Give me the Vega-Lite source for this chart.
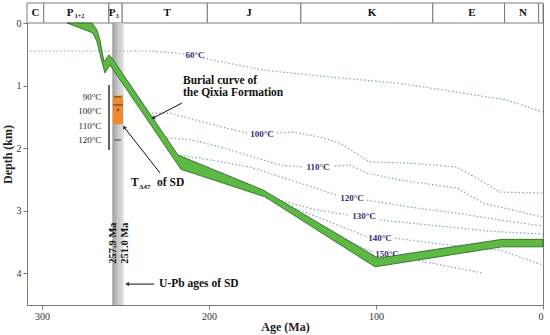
{
  "$schema": "https://vega.github.io/schema/vega-lite/v6.json",
  "width": 516,
  "height": 302,
  "autosize": {"type": "none"},
  "padding": {"left": 27, "top": 3, "right": 7, "bottom": 30},
  "config": {
    "font": "Liberation Serif",
    "view": {"stroke": "#7a7a7a", "strokeWidth": 1}
  },
  "datasets": {
    "periods": [
      {"a1": 309, "a2": 299}, {"a1": 299, "a2": 260}, {"a1": 260, "a2": 252},
      {"a1": 252, "a2": 201}, {"a1": 201, "a2": 145}, {"a1": 145, "a2": 66},
      {"a1": 66, "a2": 23}, {"a1": 23, "a2": 2.6}, {"a1": 2.6, "a2": 0}
    ],
    "periodLabels": [
      {"t": "C", "age": 304, "depth": -0.16}, {"t": "P", "age": 283.2, "depth": -0.16},
      {"t": "P", "age": 258.0, "depth": -0.16}, {"t": "T", "age": 225.1, "depth": -0.16},
      {"t": "J", "age": 176, "depth": -0.16}, {"t": "K", "age": 102.4, "depth": -0.16},
      {"t": "E", "age": 42.5, "depth": -0.16}, {"t": "N", "age": 12, "depth": -0.16}
    ],
    "periodSubs": [
      {"t": "1+2", "age": 277.6, "depth": -0.11}, {"t": "3", "age": 255.0, "depth": -0.11}
    ],
    "upb": [{"a1": 257.9, "a2": 251.0, "d1": 0, "d2": 4.51}],
    "isotherms": [
      {"k": "60a", "i": 0, "age": 309, "depth": 0.448}, {"k": "60a", "i": 1, "age": 235.3, "depth": 0.448},
      {"k": "60a", "i": 2, "age": 219.2, "depth": 0.48}, {"k": "60a", "i": 3, "age": 213.5, "depth": 0.5},
      {"k": "60b", "i": 0, "age": 203.6, "depth": 0.56}, {"k": "60b", "i": 1, "age": 167.7, "depth": 0.752},
      {"k": "60b", "i": 2, "age": 127.5, "depth": 0.864}, {"k": "60b", "i": 3, "age": 87.4, "depth": 0.96},
      {"k": "60b", "i": 4, "age": 47.9, "depth": 1.12}, {"k": "60b", "i": 5, "age": 21.6, "depth": 1.232},
      {"k": "60b", "i": 6, "age": 0, "depth": 1.424},
      {"k": "100a", "i": 0, "age": 236.5, "depth": 1.44}, {"k": "100a", "i": 1, "age": 223.4, "depth": 1.44},
      {"k": "100a", "i": 2, "age": 203.6, "depth": 1.584}, {"k": "100a", "i": 3, "age": 187.4, "depth": 1.696},
      {"k": "100a", "i": 4, "age": 177.2, "depth": 1.76},
      {"k": "100b", "i": 0, "age": 159.3, "depth": 1.76}, {"k": "100b", "i": 1, "age": 149.7, "depth": 1.744},
      {"k": "100b", "i": 2, "age": 133.5, "depth": 1.824}, {"k": "100b", "i": 3, "age": 121.6, "depth": 1.92},
      {"k": "100b", "i": 4, "age": 103.6, "depth": 2.224}, {"k": "100b", "i": 5, "age": 79.6, "depth": 2.24},
      {"k": "100b", "i": 6, "age": 51.5, "depth": 2.304}, {"k": "100b", "i": 7, "age": 37.7, "depth": 2.512},
      {"k": "100b", "i": 8, "age": 25.7, "depth": 2.704}, {"k": "100b", "i": 9, "age": 0, "depth": 2.72},
      {"k": "110a", "i": 0, "age": 225.1, "depth": 1.84}, {"k": "110a", "i": 1, "age": 213.2, "depth": 1.856},
      {"k": "110a", "i": 2, "age": 195.2, "depth": 1.968}, {"k": "110a", "i": 3, "age": 177.2, "depth": 2.112},
      {"k": "110a", "i": 4, "age": 157.5, "depth": 2.272}, {"k": "110a", "i": 5, "age": 143.7, "depth": 2.304},
      {"k": "110b", "i": 0, "age": 124.6, "depth": 2.288}, {"k": "110b", "i": 1, "age": 115.6, "depth": 2.272},
      {"k": "110b", "i": 2, "age": 105.4, "depth": 2.4}, {"k": "110b", "i": 3, "age": 85.6, "depth": 2.512},
      {"k": "110b", "i": 4, "age": 51.5, "depth": 2.64}, {"k": "110b", "i": 5, "age": 35.9, "depth": 2.88},
      {"k": "110b", "i": 6, "age": 0, "depth": 3.104},
      {"k": "120a", "i": 0, "age": 219.2, "depth": 2.112}, {"k": "120a", "i": 1, "age": 205.4, "depth": 2.16},
      {"k": "120a", "i": 2, "age": 175.4, "depth": 2.304}, {"k": "120a", "i": 3, "age": 145.5, "depth": 2.56},
      {"k": "120a", "i": 4, "age": 124.0, "depth": 2.75},
      {"k": "120b", "i": 0, "age": 105.4, "depth": 2.832}, {"k": "120b", "i": 1, "age": 79.6, "depth": 2.944},
      {"k": "120b", "i": 2, "age": 51.5, "depth": 3.04}, {"k": "120b", "i": 3, "age": 25.7, "depth": 3.152},
      {"k": "120b", "i": 4, "age": 0, "depth": 3.248},
      {"k": "130a", "i": 0, "age": 165.3, "depth": 2.784}, {"k": "130a", "i": 1, "age": 135.3, "depth": 2.992},
      {"k": "130a", "i": 2, "age": 115.6, "depth": 3.072},
      {"k": "130b", "i": 0, "age": 97.6, "depth": 3.152}, {"k": "130b", "i": 1, "age": 67.7, "depth": 3.232},
      {"k": "130b", "i": 2, "age": 31.7, "depth": 3.33}, {"k": "130b", "i": 3, "age": 0, "depth": 3.376},
      {"k": "140a", "i": 0, "age": 154.5, "depth": 2.896}, {"k": "140a", "i": 1, "age": 127.5, "depth": 3.184},
      {"k": "140a", "i": 2, "age": 104.8, "depth": 3.424},
      {"k": "140b", "i": 0, "age": 88.6, "depth": 3.44}, {"k": "140b", "i": 1, "age": 61.7, "depth": 3.536},
      {"k": "140b", "i": 2, "age": 25.7, "depth": 3.632}, {"k": "140b", "i": 3, "age": 0, "depth": 3.872},
      {"k": "150a", "i": 0, "age": 127.5, "depth": 3.36}, {"k": "150a", "i": 1, "age": 101.8, "depth": 3.664},
      {"k": "150b", "i": 0, "age": 85.6, "depth": 3.744}, {"k": "150b", "i": 1, "age": 35.9, "depth": 4.0}
    ],
    "isoLabels": [
      {"t": "60°C", "age": 208.4, "depth": 0.51}, {"t": "100°C", "age": 168.3, "depth": 1.78},
      {"t": "110°C", "age": 134.7, "depth": 2.3}, {"t": "120°C", "age": 114.4, "depth": 2.8},
      {"t": "130°C", "age": 107.2, "depth": 3.09}, {"t": "140°C", "age": 97.6, "depth": 3.44},
      {"t": "150°C", "age": 93.4, "depth": 3.7}
    ],
    "orange": [{"a1": 257.5, "a2": 251.5, "d1": 1.16, "d2": 1.62}],
    "insetLine": [{"age": 259.9, "d1": 0.99, "d2": 2.03}],
    "insetTicks": [
      {"a1": 256.9, "a2": 252.7, "depth": 1.18}, {"a1": 256.9, "a2": 252.7, "depth": 1.87},
      {"a1": 257.5, "a2": 251.5, "depth": 1.31}
    ],
    "insetLabels": [
      {"t": "90°C", "age": 264.5, "depth": 1.18}, {"t": "100°C", "age": 264.5, "depth": 1.41},
      {"t": "110°C", "age": 264.5, "depth": 1.65}, {"t": "120°C", "age": 264.5, "depth": 1.87}
    ],
    "insetDot": [{"age": 254.5, "depth": 1.39}],
    "burial": [
      {"i": 0, "age": 285, "depth": 0}, {"i": 1, "age": 270.1, "depth": 0},
      {"i": 2, "age": 267.1, "depth": 0.11}, {"i": 3, "age": 265.3, "depth": 0.27},
      {"i": 4, "age": 264.0, "depth": 0.46}, {"i": 5, "age": 262.9, "depth": 0.62},
      {"i": 6, "age": 259.9, "depth": 0.51}, {"i": 7, "age": 258.1, "depth": 0.56},
      {"i": 8, "age": 218.6, "depth": 2.11}, {"i": 9, "age": 167.7, "depth": 2.67},
      {"i": 10, "age": 98.8, "depth": 3.76}, {"i": 11, "age": 24.6, "depth": 3.46},
      {"i": 12, "age": 0, "depth": 3.46}, {"i": 13, "age": 0, "depth": 3.58},
      {"i": 14, "age": 24.6, "depth": 3.58}, {"i": 15, "age": 100.6, "depth": 3.9},
      {"i": 16, "age": 166.5, "depth": 2.78}, {"i": 17, "age": 216.8, "depth": 2.34},
      {"i": 18, "age": 259.3, "depth": 0.67}, {"i": 19, "age": 262.3, "depth": 0.8},
      {"i": 20, "age": 264.7, "depth": 0.56}, {"i": 21, "age": 267.1, "depth": 0.3},
      {"i": 22, "age": 269.5, "depth": 0.16}, {"i": 23, "age": 285, "depth": 0}
    ],
    "arrows": [
      {"id": 1, "a1": 216.2, "d1": 1.28, "a2": 233.5, "d2": 1.52},
      {"id": 2, "a1": 229.3, "d1": 2.4, "a2": 250.9, "d2": 1.664},
      {"id": 3, "a1": 232.9, "d1": 4.176, "a2": 249.1, "d2": 4.176}
    ],
    "notes": [
      {"t": "Burial curve of", "age": 215.6, "depth": 0.935},
      {"t": "the Qixia Formation", "age": 215.6, "depth": 1.125},
      {"t": "U-Pb ages of SD", "age": 229.9, "depth": 4.176},
      {"t": "of SD", "age": 231.1, "depth": 2.56},
      {"t": "T", "age": 246.7, "depth": 2.56}
    ],
    "noteSub": [{"t": "Δ47", "age": 241.9, "depth": 2.63}],
    "ages": [
      {"t": "257.9 Ma", "age": 257.3, "depth": 3.52},
      {"t": "251.0 Ma", "age": 250.5, "depth": 3.52}
    ]
  },
  "layer": [
    {
      "data": {"name": "periods"},
      "mark": {"type": "rect", "fill": "white", "stroke": "#7a7a7a", "strokeWidth": 1},
      "encoding": {
        "x": {"field": "a1", "type": "quantitative",
          "scale": {"domain": [0, 309], "reverse": true, "nice": false, "zero": false},
          "axis": {"title": "Age (Ma)", "values": [300, 200, 100, 0], "format": "d", "grid": false, "labelFont": "Liberation Serif", "labelFontSize": 10,
            "labelColor": "#333", "tickColor": "#7a7a7a", "domainColor": "#7a7a7a", "tickSize": 4, "labelPadding": 2,
            "titleFont": "Liberation Serif", "titleFontSize": 12, "titleFontWeight": "bold", "titleColor": "#222", "titlePadding": 0}},
        "x2": {"field": "a2"},
        "y": {"datum": -0.32, "type": "quantitative",
          "scale": {"domain": [-0.32, 4.51], "reverse": true, "nice": false, "zero": false},
          "axis": {"title": "Depth (km)", "values": [0, 1, 2, 3, 4], "format": "d", "grid": false, "labelFont": "Liberation Serif", "labelFontSize": 10,
            "labelColor": "#333", "tickColor": "#7a7a7a", "domainColor": "#7a7a7a", "tickSize": 4, "labelPadding": 2,
            "titleFont": "Liberation Serif", "titleFontSize": 12, "titleFontWeight": "bold", "titleColor": "#222", "titlePadding": 2}},
        "y2": {"datum": 0}
      }
    },
    {
      "data": {"name": "periodLabels"},
      "mark": {"type": "text", "fontSize": 11, "fontWeight": "bold", "color": "#111", "baseline": "middle"},
      "encoding": {
        "x": {"field": "age", "type": "quantitative"},
        "y": {"field": "depth", "type": "quantitative"},
        "text": {"field": "t"}
      }
    },
    {
      "data": {"name": "periodSubs"},
      "mark": {"type": "text", "fontSize": 6, "fontWeight": "bold", "color": "#111", "baseline": "middle"},
      "encoding": {
        "x": {"field": "age", "type": "quantitative"},
        "y": {"field": "depth", "type": "quantitative"},
        "text": {"field": "t"}
      }
    },
    {
      "data": {"name": "upb"},
      "mark": {"type": "rect", "color": {"gradient": "linear", "x1": 0, "x2": 1, "y1": 0, "y2": 0,
        "stops": [{"offset": 0, "color": "#9c9c9c"}, {"offset": 0.45, "color": "#c4c4c4"}, {"offset": 1, "color": "#e4e4e4"}]}},
      "encoding": {
        "x": {"field": "a1", "type": "quantitative"},
        "x2": {"field": "a2"},
        "y": {"field": "d1", "type": "quantitative"},
        "y2": {"field": "d2"}
      }
    },
    {
      "data": {"name": "isotherms"},
      "mark": {"type": "line", "color": "#7aa5bb", "strokeWidth": 1.2, "strokeDash": [1.5, 2.2]},
      "encoding": {
        "x": {"field": "age", "type": "quantitative"},
        "y": {"field": "depth", "type": "quantitative"},
        "detail": {"field": "k"},
        "order": {"field": "i"}
      }
    },
    {
      "data": {"name": "isoLabels"},
      "mark": {"type": "text", "fontSize": 9, "fontWeight": "bold", "color": "#3b2d78", "baseline": "middle"},
      "encoding": {
        "x": {"field": "age", "type": "quantitative"},
        "y": {"field": "depth", "type": "quantitative"},
        "text": {"field": "t"}
      }
    },
    {
      "data": {"name": "orange"},
      "mark": {"type": "rect", "color": "#f08a30"},
      "encoding": {
        "x": {"field": "a1", "type": "quantitative"},
        "x2": {"field": "a2"},
        "y": {"field": "d1", "type": "quantitative"},
        "y2": {"field": "d2"}
      }
    },
    {
      "data": {"name": "insetTicks"},
      "mark": {"type": "rule", "color": "#444", "strokeWidth": 1},
      "encoding": {
        "x": {"field": "a1", "type": "quantitative"},
        "x2": {"field": "a2"},
        "y": {"field": "depth", "type": "quantitative"}
      }
    },
    {
      "data": {"name": "insetLine"},
      "mark": {"type": "rule", "color": "#111", "strokeWidth": 1.3},
      "encoding": {
        "x": {"field": "age", "type": "quantitative"},
        "y": {"field": "d1", "type": "quantitative"},
        "y2": {"field": "d2"}
      }
    },
    {
      "data": {"name": "insetLabels"},
      "mark": {"type": "text", "fontSize": 9, "color": "#222", "align": "right", "baseline": "middle"},
      "encoding": {
        "x": {"field": "age", "type": "quantitative"},
        "y": {"field": "depth", "type": "quantitative"},
        "text": {"field": "t"}
      }
    },
    {
      "data": {"name": "insetDot"},
      "mark": {"type": "point", "filled": true, "size": 6, "color": "#6a2a10"},
      "encoding": {
        "x": {"field": "age", "type": "quantitative"},
        "y": {"field": "depth", "type": "quantitative"}
      }
    },
    {
      "data": {"name": "burial"},
      "mark": {"type": "line", "fill": "#5db844", "stroke": "#22601a", "strokeWidth": 0.8},
      "encoding": {
        "x": {"field": "age", "type": "quantitative"},
        "y": {"field": "depth", "type": "quantitative"},
        "order": {"field": "i"}
      }
    },
    {
      "data": {"name": "arrows"},
      "mark": {"type": "rule", "color": "#111", "strokeWidth": 1},
      "encoding": {
        "x": {"field": "a1", "type": "quantitative"},
        "x2": {"field": "a2"},
        "y": {"field": "d1", "type": "quantitative"},
        "y2": {"field": "d2"}
      }
    },
    {
      "data": {"name": "arrows"},
      "transform": [{"filter": "datum.id == 1"}],
      "mark": {"type": "point", "shape": "triangle-up", "filled": true, "size": 22, "color": "#111", "angle": 243},
      "encoding": {
        "x": {"field": "a2", "type": "quantitative"},
        "y": {"field": "d2", "type": "quantitative"}
      }
    },
    {
      "data": {"name": "arrows"},
      "transform": [{"filter": "datum.id == 2"}],
      "mark": {"type": "point", "shape": "triangle-up", "filled": true, "size": 22, "color": "#111", "angle": 322},
      "encoding": {
        "x": {"field": "a2", "type": "quantitative"},
        "y": {"field": "d2", "type": "quantitative"}
      }
    },
    {
      "data": {"name": "arrows"},
      "transform": [{"filter": "datum.id == 3"}],
      "mark": {"type": "point", "shape": "triangle-up", "filled": true, "size": 22, "color": "#111", "angle": 270},
      "encoding": {
        "x": {"field": "a2", "type": "quantitative"},
        "y": {"field": "d2", "type": "quantitative"}
      }
    },
    {
      "data": {"name": "notes"},
      "mark": {"type": "text", "fontSize": 11.5, "fontWeight": "bold", "color": "#111", "align": "left", "baseline": "middle"},
      "encoding": {
        "x": {"field": "age", "type": "quantitative"},
        "y": {"field": "depth", "type": "quantitative"},
        "text": {"field": "t"}
      }
    },
    {
      "data": {"name": "noteSub"},
      "mark": {"type": "text", "fontSize": 7, "fontWeight": "bold", "color": "#111", "align": "left", "baseline": "middle"},
      "encoding": {
        "x": {"field": "age", "type": "quantitative"},
        "y": {"field": "depth", "type": "quantitative"},
        "text": {"field": "t"}
      }
    },
    {
      "data": {"name": "ages"},
      "mark": {"type": "text", "fontSize": 10.5, "fontWeight": "bold", "color": "#111", "angle": 270, "align": "center", "baseline": "middle"},
      "encoding": {
        "x": {"field": "age", "type": "quantitative"},
        "y": {"field": "depth", "type": "quantitative"},
        "text": {"field": "t"}
      }
    }
  ]
}
